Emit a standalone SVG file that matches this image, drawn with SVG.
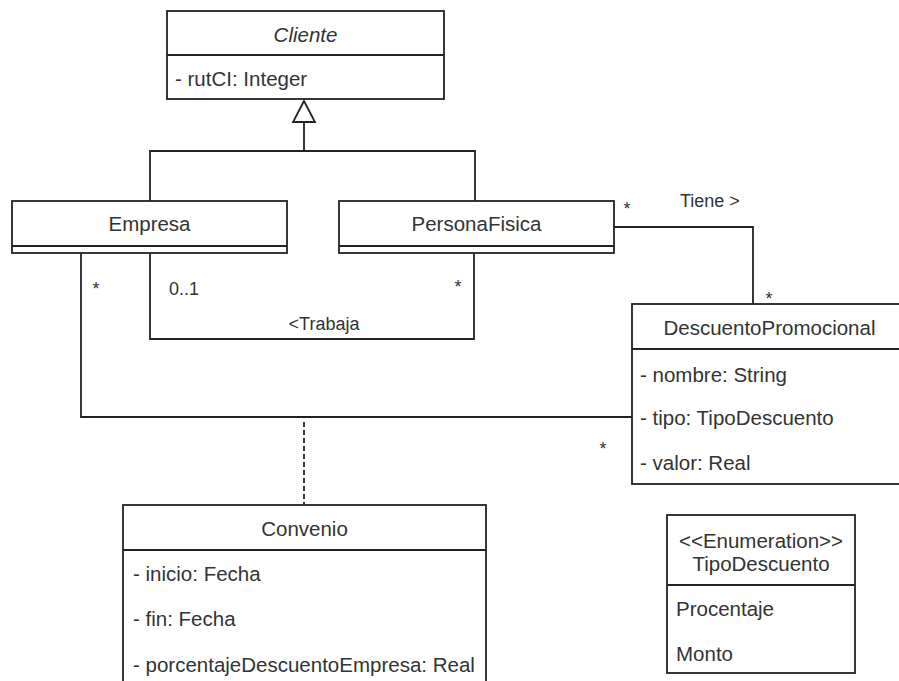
<svg xmlns="http://www.w3.org/2000/svg" width="899" height="681" viewBox="0 0 899 681">
<style>
.box{fill:#fff;stroke:#222;stroke-width:1.8}
.ln{fill:none;stroke:#222;stroke-width:1.8}
.t{font-family:"Liberation Sans",Arial,sans-serif;font-size:20.5px;fill:#333}
.c{text-anchor:middle}
.s{font-family:"Liberation Sans",Arial,sans-serif;font-size:18px;fill:#333}
</style>
<rect width="899" height="681" fill="#fff"/>
<g id="connectors">
  <polyline class="ln" points="304,122 304,151"/>
  <polyline class="ln" points="150,201 150,151 475,151 475,201"/>
  <polygon points="304,101 293,122 315,122" fill="#fff" stroke="#222" stroke-width="1.8"/>
  <polyline class="ln" points="150,253 150,339 474,339 474,253"/>
  <polyline class="ln" points="81,253 81,417 632,417"/>
  <polyline class="ln" points="614,227 753,227 753,304"/>
  <line class="ln" x1="304" y1="422" x2="304" y2="505" stroke-dasharray="5 3"/>
  <text class="s c" x="96" y="295">*</text>
  <text class="s" x="169" y="295">0..1</text>
  <text class="s c" x="458" y="293">*</text>
  <text class="s c" x="324" y="330">&lt;Trabaja</text>
  <text class="s c" x="627" y="215">*</text>
  <text class="s" x="680" y="207">Tiene &gt;</text>
  <text class="s c" x="769" y="305">*</text>
  <text class="s c" x="603" y="455">*</text>
</g>
<g id="Cliente">
  <rect class="box" x="167" y="11" width="277" height="88"/>
  <line class="ln" x1="167" y1="55" x2="444" y2="55"/>
  <text class="t c" x="305.5" y="42" font-style="italic">Cliente</text>
  <text class="t" x="175" y="86">- rutCI: Integer</text>
</g>
<g id="Empresa">
  <rect class="box" x="12" y="201" width="275" height="52"/>
  <line class="ln" x1="12" y1="246" x2="287" y2="246"/>
  <text class="t c" x="149.5" y="231">Empresa</text>
</g>
<g id="PersonaFisica">
  <rect class="box" x="339" y="201" width="275" height="52"/>
  <line class="ln" x1="339" y1="246" x2="614" y2="246"/>
  <text class="t c" x="476.5" y="231">PersonaFisica</text>
</g>
<g id="DescuentoPromocional">
  <rect class="box" x="632" y="304" width="275" height="180"/>
  <line class="ln" x1="632" y1="349" x2="907" y2="349"/>
  <text class="t c" x="769.5" y="335">DescuentoPromocional</text>
  <text class="t" x="640" y="382">- nombre: String</text>
  <text class="t" x="640" y="425">- tipo: TipoDescuento</text>
  <text class="t" x="640" y="470">- valor: Real</text>
</g>
<g id="Convenio">
  <rect class="box" x="123" y="505" width="363" height="190"/>
  <line class="ln" x1="123" y1="550" x2="486" y2="550"/>
  <text class="t c" x="304.5" y="536">Convenio</text>
  <text class="t" x="133" y="581">- inicio: Fecha</text>
  <text class="t" x="133" y="626">- fin: Fecha</text>
  <text class="t" x="133" y="672">- porcentajeDescuentoEmpresa: Real</text>
</g>
<g id="TipoDescuento">
  <rect class="box" x="667" y="515" width="188" height="158"/>
  <line class="ln" x1="667" y1="585" x2="855" y2="585"/>
  <text class="t c" x="761" y="548">&lt;&lt;Enumeration&gt;&gt;</text>
  <text class="t c" x="761" y="571">TipoDescuento</text>
  <text class="t" x="676" y="616">Procentaje</text>
  <text class="t" x="676" y="661">Monto</text>
</g>
</svg>
